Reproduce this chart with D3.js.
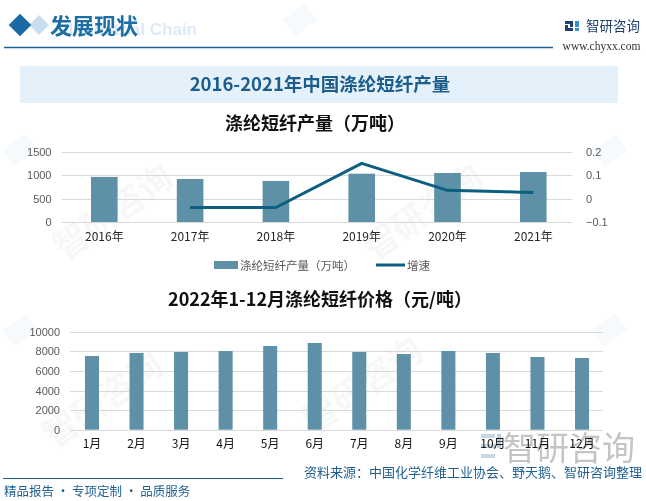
<!DOCTYPE html>
<html><head><meta charset="utf-8">
<script src="https://cdn.jsdelivr.net/npm/d3@7"></script>
<style>
body{margin:0;background:#fff}
svg{display:block}
text{font-family:"Noto Sans CJK SC","Noto Sans",sans-serif}
</style></head>
<body><div id="chart"></div>
<script>
// ---- data ----
const years = ["2016年","2017年","2018年","2019年","2020年","2021年"];
const output = [962, 918, 876, 1031, 1046, 1067];           // 万吨
const growth = [null, -0.038, -0.038, 0.15, 0.035, 0.026];   // 增速
const leftTicks = [0, 500, 1000, 1500];
const rightTicks = [-0.1, 0, 0.1, 0.2];
const months = ["1月","2月","3月","4月","5月","6月","7月","8月","9月","10月","11月","12月"];
const prices = [7520, 7830, 7930, 8030, 8540, 8850, 7930, 7720, 8030, 7830, 7420, 7320]; // 元/吨
const priceTicks = [0, 2000, 4000, 6000, 8000, 10000];

const W = 646, H = 501;
const barColor = "#5e90a8", lineColor = "#0c5f80", gridColor = "#d9d9d9";
const blue = "#1f5f8f";

const svg = d3.select("#chart").append("svg").attr("width", W).attr("height", H);

// ---- watermarks ----
const wm = svg.append("g").attr("fill", "#000").attr("opacity", 0.035)
  .style("font-size", "34px").style("font-weight", "bold");
[[120,222],[430,222],[110,410],[370,395]].forEach(([x,y]) => {
  wm.append("text").attr("transform", `translate(${x},${y}) rotate(-35)`)
    .attr("text-anchor", "middle").text("智研咨询");
});
const wm2 = svg.append("g").attr("fill", "#2f7fbf").attr("opacity", 0.04);
[[20,150],[610,150],[20,330],[610,330],[300,20],[740,20]].forEach(([x,y]) => {
  wm2.append("rect").attr("x", x-14).attr("y", y-10).attr("width", 28).attr("height", 20)
    .attr("transform", `rotate(-35,${x},${y})`);
});

// ---- header ----
svg.append("rect").attr("x", 32).attr("y", 18).attr("width", 14).attr("height", 14)
  .attr("fill", "#c9dff0").attr("transform", "rotate(45,39,25)");
svg.append("rect").attr("x", 12).attr("y", 17).attr("width", 16).attr("height", 16)
  .attr("fill", "#1a6aa6").attr("transform", "rotate(45,20,25)");
svg.append("text").attr("x", 197).attr("y", 35).attr("text-anchor", "end").attr("fill", "#dcebf6")
  .style("font-family", "Liberation Sans, Arial").style("font-weight", "bold").style("font-size", "17px")
  .text("Industrial Chain");
svg.append("text").attr("x", 50).attr("y", 34).attr("fill", "#1c6ea4")
  .style("font-size", "22px").style("font-weight", "bold").text("发展现状");
svg.append("line").attr("x1", 4).attr("x2", 553).attr("y1", 47.5).attr("y2", 47.5)
  .attr("stroke", blue).attr("stroke-width", 1.5);
// logo
const lg = svg.append("g");
lg.append("rect").attr("x", 565).attr("y", 21).attr("width", 8).attr("height", 3).attr("fill", "#1f3f7a");
lg.append("rect").attr("x", 570).attr("y", 21).attr("width", 3).attr("height", 6).attr("fill", "#1f3f7a");
lg.append("rect").attr("x", 565).attr("y", 25).attr("width", 3).attr("height", 6).attr("fill", "#1f3f7a");
lg.append("rect").attr("x", 565).attr("y", 28).attr("width", 8).attr("height", 3).attr("fill", "#1f3f7a");
lg.append("rect").attr("x", 575).attr("y", 21).attr("width", 4).attr("height", 6).attr("fill", "#3a8fd0");
lg.append("rect").attr("x", 575).attr("y", 28).attr("width", 4).attr("height", 3).attr("fill", "#3a8fd0");
svg.append("text").attr("x", 586).attr("y", 31).attr("fill", "#1f3f6f")
  .style("font-size", "13.5px").text("智研咨询");
svg.append("text").attr("x", 601.5).attr("y", 50).attr("fill", "#333").attr("text-anchor", "middle")
  .style("font-family", "Liberation Serif, serif").style("font-size", "11.5px").text("www.chyxx.com");

// ---- title box ----
svg.append("rect").attr("x", 20).attr("y", 66).attr("width", 598).attr("height", 37).attr("fill", "#e4f1fa");
svg.append("text").attr("x", 320).attr("y", 91).attr("text-anchor", "middle").attr("fill", "#1d5d8c")
  .style("font-size", "18.5px").style("font-weight", "bold").text("2016-2021年中国涤纶短纤产量");
svg.append("text").attr("x", 315).attr("y", 130).attr("text-anchor", "middle").attr("fill", "#111")
  .style("font-size", "18px").style("font-weight", "bold").text("涤纶短纤产量（万吨）");

// ---- chart 1 ----
const x1 = d3.scaleBand().domain(years).range([61.4, 576.2]).paddingInner(0.69).paddingOuter(0.345);
const yL = d3.scaleLinear().domain([0, 1500]).range([222, 151.7]);
const yR = d3.scaleLinear().domain([-0.1, 0.2]).range([222, 151.7]);
const c1 = svg.append("g");
c1.append("g").selectAll("line").data(leftTicks).join("line")
  .attr("x1", 61.5).attr("x2", 572).attr("y1", d => Math.round(yL(d)) + 0.5).attr("y2", d => Math.round(yL(d)) + 0.5)
  .attr("stroke", gridColor);
c1.append("g").selectAll("rect").data(output).join("rect")
  .attr("x", (d,i) => x1(years[i])).attr("width", x1.bandwidth())
  .attr("y", d => yL(d)).attr("height", d => yL(0) - yL(d)).attr("fill", barColor);
const pts = growth.map((g,i) => ({x: x1(years[i]) + x1.bandwidth()/2, g})).filter(d => d.g !== null);
c1.append("path").datum(pts)
  .attr("d", d3.line().x(d => d.x).y(d => yR(d.g)))
  .attr("fill", "none").attr("stroke", lineColor).attr("stroke-width", 3).attr("stroke-linejoin", "round");

const axL = c1.append("g").attr("transform", "translate(61.5,0)")
  .call(d3.axisLeft(yL).tickValues(leftTicks).tickSize(0).tickPadding(10).tickFormat(d3.format("d")));
const axR = c1.append("g").attr("transform", "translate(572,0)")
  .call(d3.axisRight(yR).tickValues(rightTicks).tickSize(0).tickPadding(14).tickFormat(d3.format(".1~f")));
const axB = c1.append("g").attr("transform", "translate(0,222)")
  .call(d3.axisBottom(x1).tickSize(0).tickPadding(10));
[axL, axR].forEach(a => { a.select(".domain").remove();
  a.selectAll("text").attr("fill", "#595959").style("font-size", "11px").style("font-family", "Liberation Sans, sans-serif"); });
axB.select(".domain").remove();
axB.selectAll("text").attr("fill", "#262626").style("font-size", "12px");

// legend
const leg = svg.append("g");
leg.append("rect").attr("x", 214).attr("y", 261).attr("width", 24).attr("height", 8).attr("fill", barColor);
leg.append("text").attr("x", 240).attr("y", 269.5).attr("fill", "#595959").style("font-size", "11.5px").text("涤纶短纤产量（万吨）");
leg.append("line").attr("x1", 376).attr("x2", 405).attr("y1", 265).attr("y2", 265).attr("stroke", lineColor).attr("stroke-width", 3);
leg.append("text").attr("x", 407).attr("y", 269.5).attr("fill", "#595959").style("font-size", "11.5px").text("增速");

// ---- chart 2 ----
svg.append("text").attr("x", 320).attr("y", 306).attr("text-anchor", "middle").attr("fill", "#111")
  .style("font-size", "18px").style("font-weight", "bold").text("2022年1-12月涤纶短纤价格（元/吨）");

// big watermark bottom right
const bw = svg.append("g");
bw.append("rect").attr("x", 481).attr("y", 434).attr("width", 14).attr("height", 4).attr("fill", "#c9d6e3");
bw.append("rect").attr("x", 481).attr("y", 444).attr("width", 14).attr("height", 4).attr("fill", "#c9d6e3");
bw.append("rect").attr("x", 481).attr("y", 454).attr("width", 14).attr("height", 4).attr("fill", "#c9d6e3");
bw.append("rect").attr("x", 497).attr("y", 434).attr("width", 4).attr("height", 14).attr("fill", "#b8d0e6");
bw.append("text").attr("x", 503).attr("y", 460).attr("fill", "#c4c4c4")
  .style("font-size", "33px").text("智研咨询");

const x2 = d3.scaleBand().domain(months).range([69.7, 604.3]).paddingInner(0.685).paddingOuter(0.3425);
const y2 = d3.scaleLinear().domain([0, 10000]).range([429.7, 331.7]);
const c2 = svg.append("g");
c2.append("g").selectAll("line").data(priceTicks).join("line")
  .attr("x1", 70).attr("x2", 603).attr("y1", d => Math.round(y2(d)) + 0.5).attr("y2", d => Math.round(y2(d)) + 0.5)
  .attr("stroke", gridColor);
c2.append("g").selectAll("rect").data(prices).join("rect")
  .attr("x", (d,i) => x2(months[i])).attr("width", x2.bandwidth())
  .attr("y", d => y2(d)).attr("height", d => y2(0) - y2(d)).attr("fill", barColor);
const ay2 = c2.append("g").attr("transform", "translate(70,0)")
  .call(d3.axisLeft(y2).tickValues(priceTicks).tickSize(0).tickPadding(10).tickFormat(d3.format("d")));
ay2.select(".domain").remove();
ay2.selectAll("text").attr("fill", "#595959").style("font-size", "11px").style("font-family", "Liberation Sans, sans-serif");
const ax2 = c2.append("g").attr("transform", "translate(0,429.7)")
  .call(d3.axisBottom(x2).tickSize(0).tickPadding(10));
ax2.select(".domain").remove();
ax2.selectAll("text").attr("fill", "#111").style("font-size", "12px");

// ---- footer ----
svg.append("line").attr("x1", 3).attr("x2", 283).attr("y1", 478.5).attr("y2", 478.5).attr("stroke", blue).attr("stroke-width", 1.2);
svg.append("text").attr("x", 642).attr("y", 477).attr("text-anchor", "end").attr("fill", blue)
  .style("font-size", "13px").text("资料来源：中国化学纤维工业协会、野天鹅、智研咨询整理");
svg.append("text").attr("x", 4).attr("y", 496).attr("fill", blue)
  .style("font-size", "12.5px").text("精品报告 · 专项定制 · 品质服务");
</script></body></html>
